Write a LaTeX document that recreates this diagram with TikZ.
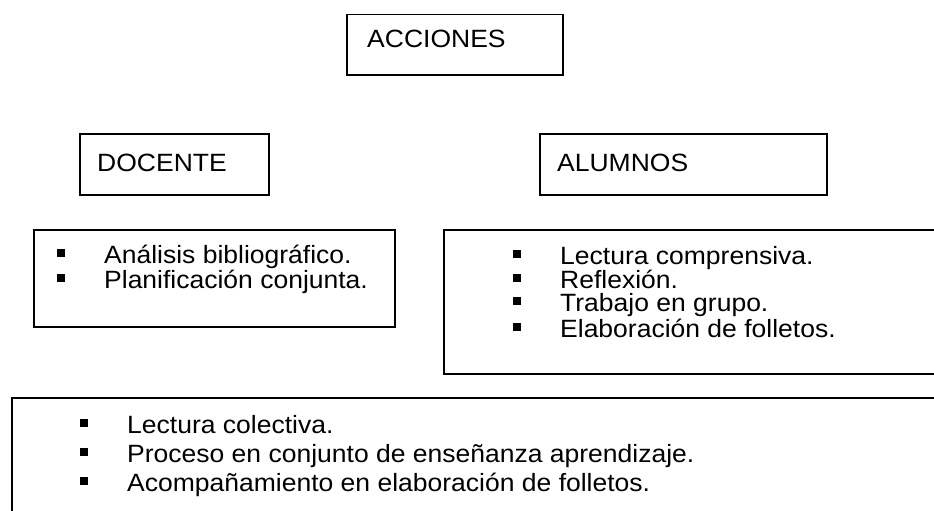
\documentclass[tikz,border=0pt]{standalone}
\usepackage{fontspec}
\setmainfont{Liberation Sans}[FakeStretch=1.06]
\usetikzlibrary{positioning}

\newcommand{\bul}{\makebox[47pt][l]{\rule[6pt]{8pt}{8pt}}}

\begin{document}
\begin{tikzpicture}[x=1pt, y=-1pt, font=\fontsize{25}{30}\selectfont]
	\tikzstyle{block}=[draw=black, line width=1.5pt, rectangle, anchor=north west, inner sep=0pt]
	\tikzstyle{head}=[anchor=base west, inner sep=0pt]
	\tikzstyle{entry}=[anchor=base west, inner sep=0pt, text height=17pt, text depth=4pt]
	
	\useasboundingbox (0,0) rectangle (934,511);
	\clip (0,0) rectangle (934,511);
	
	% titles
	\node[block, minimum width=216pt, minimum height=60pt] (acc) at (346,14) {};
	\node[block, minimum width=189pt, minimum height=61pt] (doc) at (79,133) {};
	\node[block, minimum width=287pt, minimum height=61pt] (alu) at (539,133) {};
	\node[head] (tacc) at (367,48) {ACCIONES};
	\node[head] (tdoc) at (97,171) {DOCENTE};
	\node[head] (talu) at (557,171) {ALUMNOS};
	
	% lists
	\node[block, minimum width=361pt, minimum height=97pt] (doclist) at (33,229) {};
	\node[block, minimum width=530pt, minimum height=144pt] (alulist) at (443,229) {};
	\node[block, minimum width=960pt, minimum height=150pt] (both) at (11,397) {};
	
	\foreach \y/\t [count=\i] in {263/Análisis bibliográfico., 288/Planificación conjunta.}
		\node[entry] (d\i) at (57,\y) {\bul\t};
	\foreach \y/\t [count=\i] in {264/Lectura comprensiva., 288/Reflexión., 311/Trabajo en grupo., 337/Elaboración de folletos.}
		\node[entry] (a\i) at (513,\y) {\bul\t};
	\foreach \y/\t [count=\i] in {433/Lectura colectiva., 462/Proceso en conjunto de enseñanza aprendizaje., 491/Acompañamiento en elaboración de folletos.}
		\node[entry] (b\i) at (80,\y) {\bul\t};
\end{tikzpicture}
\end{document}
